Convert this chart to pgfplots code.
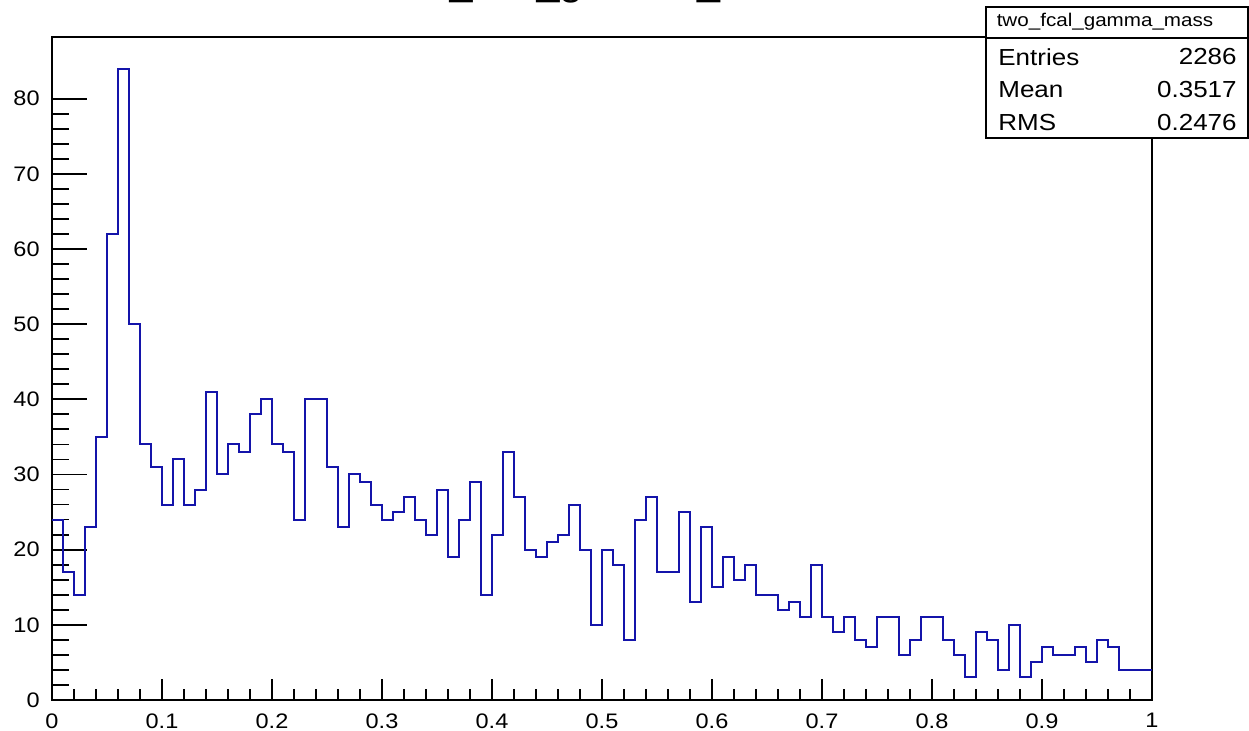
\documentclass[border=0pt]{standalone}
\usepackage{pgfplots}
\pgfplotsset{compat=1.18}
\usepackage{fontspec}
\setmainfont{Liberation Sans}[FakeStretch=1.12]
\definecolor{histblue}{RGB}{20,20,170}
\begin{document}
\begin{tikzpicture}
\useasboundingbox (0,0) rectangle (624.5pt,365.5pt);
\begin{axis}[
  scale only axis, width=550pt, height=331.5pt,
  at={(26pt,15.5pt)}, anchor=south west,
  xmin=0, xmax=1, ymin=0, ymax=88.2,
  axis line style={line width=1pt},
  tick pos=left, tick align=inside,
  xtick={0,0.1,0.2,0.3,0.4,0.5,0.6,0.7,0.8,0.9,1},
  xticklabels={0,0.1,0.2,0.3,0.4,0.5,0.6,0.7,0.8,0.9,1},
  ytick={0,10,20,30,40,50,60,70,80},
  yticklabels={0,10,20,30,40,50,60,70,80},
  minor x tick num=4, minor y tick num=4,
  xtick style={line width=0.9pt, black, /pgfplots/major tick length=10.5pt, /pgfplots/minor tick length=5.5pt},
  ytick style={line width=0.9pt, black, /pgfplots/major tick length=17.5pt, /pgfplots/minor tick length=8.5pt},
  tick label style={font=\fontsize{10.5}{12}\selectfont, inner sep=0pt},
  xticklabel style={anchor=north, yshift=-6.5pt},
  yticklabel style={anchor=east, xshift=-6pt},
]
\addplot[const plot, draw=histblue, line width=1pt] coordinates {
(0.00,24) (0.01,17) (0.02,14) (0.03,23) (0.04,35) (0.05,62) (0.06,84) (0.07,50) (0.08,34) (0.09,31)
(0.10,26) (0.11,32) (0.12,26) (0.13,28) (0.14,41) (0.15,30) (0.16,34) (0.17,33) (0.18,38) (0.19,40)
(0.20,34) (0.21,33) (0.22,24) (0.23,40) (0.24,40) (0.25,31) (0.26,23) (0.27,30) (0.28,29) (0.29,26)
(0.30,24) (0.31,25) (0.32,27) (0.33,24) (0.34,22) (0.35,28) (0.36,19) (0.37,24) (0.38,29) (0.39,14)
(0.40,22) (0.41,33) (0.42,27) (0.43,20) (0.44,19) (0.45,21) (0.46,22) (0.47,26) (0.48,20) (0.49,10)
(0.50,20) (0.51,18) (0.52,8) (0.53,24) (0.54,27) (0.55,17) (0.56,17) (0.57,25) (0.58,13) (0.59,23)
(0.60,15) (0.61,19) (0.62,16) (0.63,18) (0.64,14) (0.65,14) (0.66,12) (0.67,13) (0.68,11) (0.69,18)
(0.70,11) (0.71,9) (0.72,11) (0.73,8) (0.74,7) (0.75,11) (0.76,11) (0.77,6) (0.78,8) (0.79,11)
(0.80,11) (0.81,8) (0.82,6) (0.83,3) (0.84,9) (0.85,8) (0.86,4) (0.87,10) (0.88,3) (0.89,5)
(0.90,7) (0.91,6) (0.92,6) (0.93,7) (0.94,5) (0.95,8) (0.96,7) (0.97,4) (0.98,4) (0.99,4)
(1.00,4)
};
\end{axis}
\node[anchor=base, font=\fontsize{18.4}{20}\selectfont, inner sep=0pt] at (301pt,367.7pt) {two\_fcal\_gamma\_mass};
\draw[line width=1pt, fill=white] (493pt,296.5pt) rectangle (623.8pt,362pt);
\draw[line width=1pt] (493pt,346.5pt) -- (623.8pt,346.5pt);
\node[font=\fontsize{9.2}{11}\selectfont, inner sep=0pt] at (552.5pt,354.5pt) {two\_fcal\_gamma\_mass};
\begin{scope}[every node/.style={font=\fontsize{11.6}{13}\selectfont, inner sep=0pt}]
\node[anchor=west] at (499pt,337pt) {Entries};
\node[anchor=east] at (618.5pt,337pt) {2286};
\node[anchor=west] at (499pt,320.5pt) {Mean};
\node[anchor=east] at (618.5pt,320.5pt) {0.3517};
\node[anchor=west] at (499pt,304pt) {RMS};
\node[anchor=east] at (618.5pt,304pt) {0.2476};
\end{scope}
\end{tikzpicture}
\end{document}
